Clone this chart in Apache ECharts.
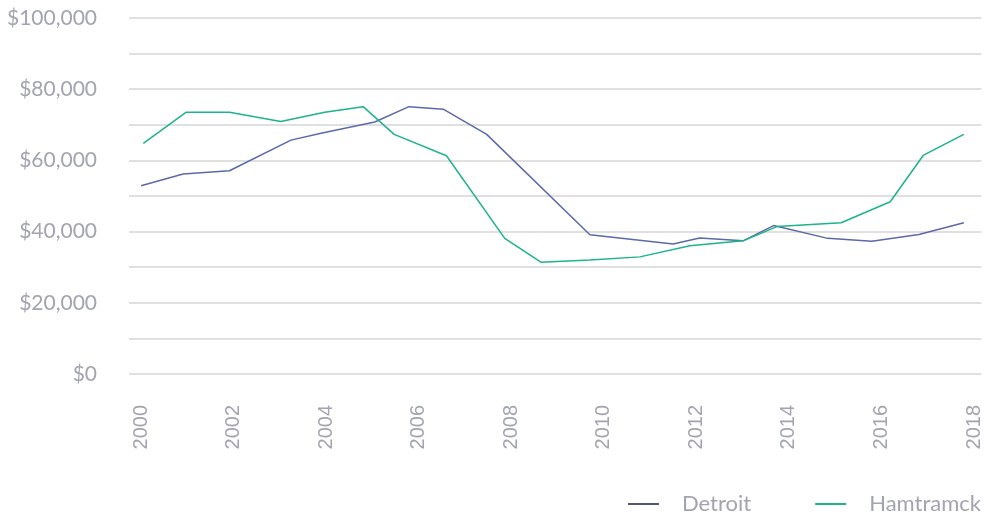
<!DOCTYPE html>
<html>
<head>
<meta charset="utf-8">
<script src="https://cdn.jsdelivr.net/npm/echarts@6/dist/echarts.min.js"></script>
<style>
  html, body { margin: 0; padding: 0; background: #fff; }
  #chart { width: 984px; height: 516px; }
</style>
</head>
<body>
<div id="chart"></div>
<script>
// fractional years, one list per series
var detroitYears = [2000.0, 2000.91, 2001.91, 2003.24, 2003.89, 2005.05, 2005.79, 2006.53, 2007.47, 2009.70, 2011.50, 2012.07, 2013.01, 2013.67, 2014.84, 2015.79, 2016.81, 2017.78]
var detroitValues = [52900, 56200, 57100, 65700, 67600, 70800, 75100, 74400, 67300, 39100, 36500, 38200, 37400, 41700, 38100, 37300, 39200, 42500]

var hamtramckYears = [2000.05, 2000.97, 2001.91, 2003.02, 2003.97, 2004.80, 2005.47, 2006.60, 2007.86, 2008.64, 2009.70, 2010.78, 2011.86, 2013.01, 2013.74, 2015.13, 2016.19, 2016.91, 2017.78]
var hamtramckValues = [64800, 73500, 73500, 70900, 73500, 75100, 67300, 61300, 38100, 31400, 32000, 32900, 36000, 37400, 41400, 42500, 48400, 61500, 67300]

var seriesNames = ['Detroit', 'Hamtramck']

function pairs(xs, ys) {
  return xs.map(function (x, i) { return [x, ys[i]] })
}

var labelColor = '#a2a5b0'

var chart = echarts.init(document.getElementById('chart'))
chart.setOption({
  animation: false,
  grid: {
    left: 129,
    right: 2,
    top: 18,
    bottom: 142
  },
  legend: {
    left: 628,
    top: 493,
    padding: 0,
    icon: 'rect',
    itemWidth: 31,
    itemHeight: 2,
    itemGap: 64,
    textStyle: {
      color: labelColor,
      fontFamily: 'Lato',
      fontSize: 22,
      padding: [0, 0, 0, 18]
    },
    data: [
      { name: seriesNames[0], itemStyle: { color: '#4f5872' } },
      { name: seriesNames[1], itemStyle: { color: '#1db38b' } }
    ]
  },
  xAxis: {
    type: 'value',
    min: 1999.74,
    max: 2018.16,
    minInterval: 2,
    maxInterval: 2,
    axisLine: { show: false },
    axisTick: { show: false },
    splitLine: { show: false },
    axisLabel: {
      rotate: 90,
      margin: 31,
      color: labelColor,
      fontFamily: 'Liberation Sans',
      fontSize: 20,
      formatter: function (v) {
        var r = Math.round(v)
        if (Math.abs(v - r) > 1e-6 || r % 2 !== 0) return ''
        return String(r)
      }
    }
  },
  yAxis: {
    type: 'value',
    min: 0,
    max: 100000,
    interval: 10000,
    axisLine: { show: false },
    axisTick: { show: false },
    splitLine: { lineStyle: { color: '#e0e0e0', width: 2 } },
    axisLabel: {
      margin: 32,
      color: labelColor,
      fontFamily: 'Lato',
      fontSize: 21,
      formatter: function (v) {
        if (v % 20000 !== 0) return ''
        return '$' + v.toLocaleString('en-US')
      }
    }
  },
  series: [
    {
      name: seriesNames[0],
      type: 'line',
      data: pairs(detroitYears, detroitValues),
      symbol: 'none',
      lineStyle: { color: '#5b69a8', width: 1.5 },
      itemStyle: { color: '#5b69a8' }
    },
    {
      name: seriesNames[1],
      type: 'line',
      data: pairs(hamtramckYears, hamtramckValues),
      symbol: 'none',
      lineStyle: { color: '#1db38b', width: 1.5 },
      itemStyle: { color: '#1db38b' }
    }
  ]
})
</script>
</body>
</html>
